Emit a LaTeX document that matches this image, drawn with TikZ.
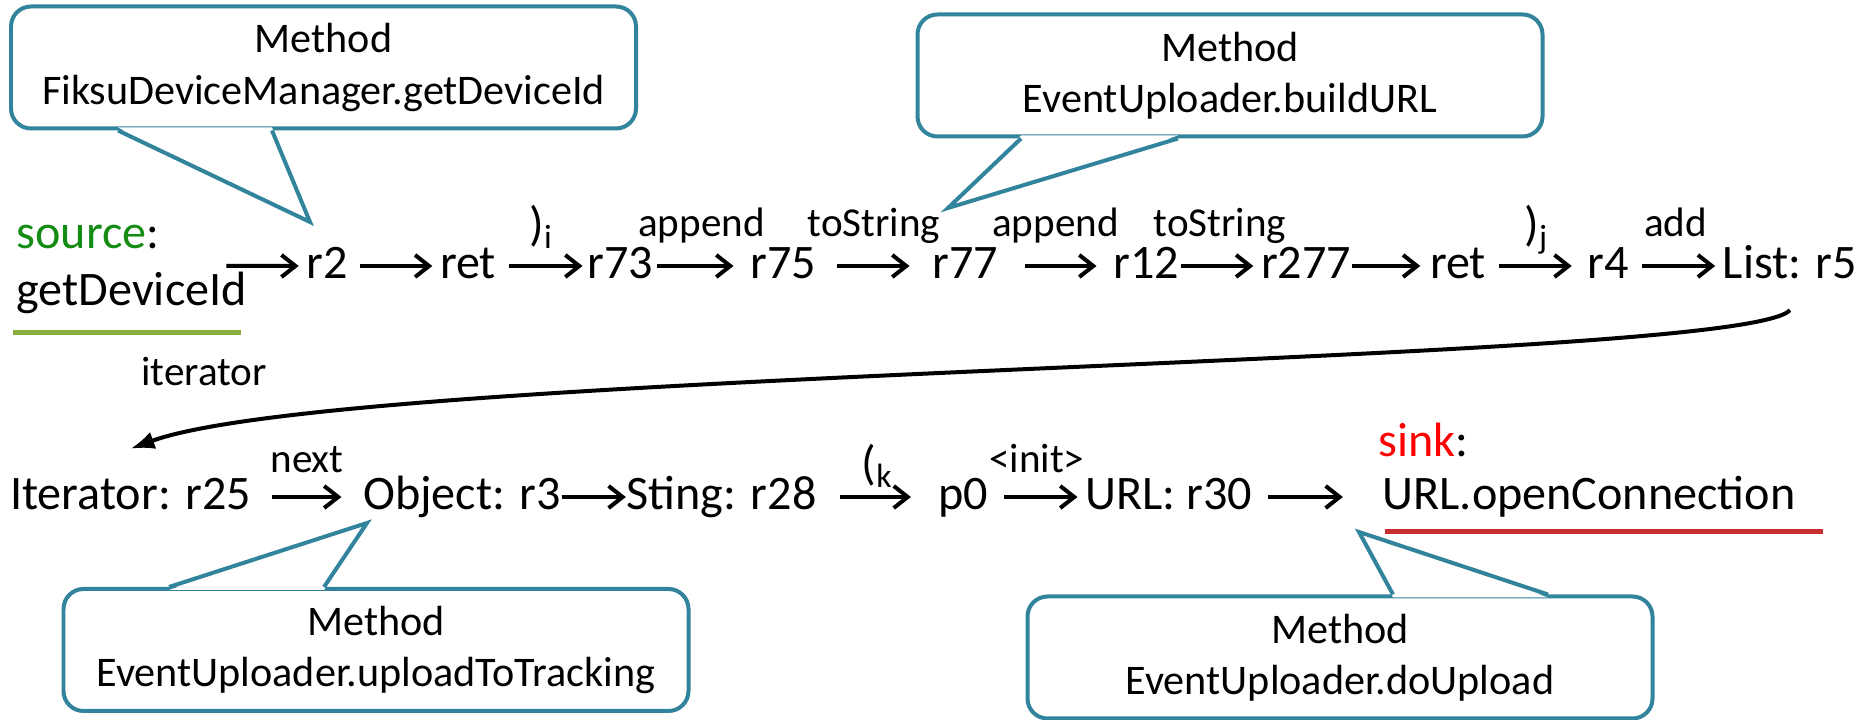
\documentclass[tikz,border=0pt]{standalone}
\usepackage{fontspec}
\setmainfont{Carlito}
\usetikzlibrary{positioning,arrows.meta,calc}
\definecolor{calloutblue}{HTML}{31849B}
\definecolor{srcgreen}{HTML}{148C14}
\definecolor{srcline}{HTML}{8AAE3C}
\definecolor{sinkred}{HTML}{FF0000}
\definecolor{sinkline}{HTML}{C62D2D}
\newcommand{\varfont}{\fontsize{13.7}{16.2}\selectfont}
\newcommand{\boxfont}{\fontsize{12}{14.6}\selectfont}
\newcommand{\lblfont}{\fontsize{11.7}{14}\selectfont}
\tikzset{
  var/.style={font=\varfont, inner xsep=0pt, inner ysep=3pt, text height=0.26cm, text depth=0pt, anchor=base},
  flow/.style={line width=0.04cm, -{Straight Barb[length=0.14cm, width=0.22cm]}},
  backflow/.style={line width=0.04cm, -{Latex[length=0.24cm, width=0.18cm]}},
  lbl/.style={font=\lblfont, anchor=base, midway, yshift=#1},
  lbl/.default=0.29cm,
  method/.style={draw=calloutblue, line width=0.04cm, rounded corners=0.2cm, fill=white, align=center, font=\boxfont, minimum width=6.25cm, minimum height=1.22cm, inner sep=0pt},
  pointer/.style={draw=calloutblue, line width=0.04cm},
}

\begin{document}
\begin{tikzpicture}
  \path[use as bounding box, fill=white] (0,0) rectangle (18.68,-7.2);

  % first row
  \node[anchor=west, align=left, font=\varfont, inner sep=0pt] (src) at (0.16,-2.66) {\strut\textcolor{srcgreen}{source}:\\\strut getDeviceId};
  \node[var] (r2) at (3.27,-2.79) {r2};
  \node[var] (ret1) at (4.68,-2.79) {ret};
  \node[var] (r73) at (6.20,-2.79) {r73};
  \node[var] (r75) at (7.83,-2.79) {r75};
  \node[var] (r77) at (9.65,-2.79) {r77};
  \node[var] (r12) at (11.46,-2.79) {r12};
  \node[var] (r277) at (13.06,-2.79) {r277};
  \node[var] (ret2) at (14.58,-2.79) {ret};
  \node[var] (r4) at (16.08,-2.79) {r4};
  \node[var] (l5) at (17.90,-2.79) {List: r5};
  \draw[srcline, line width=0.05cm] (0.13,-3.33) -- (2.41,-3.33);

  \draw[flow, shorten <=-0.21cm, shorten >=0.07cm] (src) -- (r2);
  \draw[flow, shorten <=0.12cm, shorten >=0.07cm] (r2) -- (ret1);
  \draw[flow, shorten <=0.12cm, shorten >=0.04cm] (ret1) -- node[lbl=0.25cm, font=\varfont] {)\textsubscript{i}} (r73);
  \draw[flow, shorten <=0.03cm, shorten >=0.16cm] (r73) -- node[lbl] {append} (r75);
  \draw[flow, shorten <=0.20cm, shorten >=0.22cm] (r75) -- node[lbl] {toString} (r77);
  \draw[flow, shorten <=0.26cm, shorten >=0.16cm] (r77) -- node[lbl] {append} (r12);
  \draw[flow, shorten <=0.01cm, shorten >=0.07cm] (r12) -- node[lbl] {toString} (r277);
  \draw[flow, shorten >=0.09cm] (r277) -- (ret2);
  \draw[flow, shorten <=0.12cm, shorten >=0.15cm] (ret2) -- node[lbl=0.25cm, font=\varfont] {)\textsubscript{j}} (r4);
  \draw[flow, shorten <=0.13cm, shorten >=0.07cm] (r4) -- node[lbl] {add} (l5);

  % second row
  \node[var] (it25) at (1.305,-5.10) {Iterator: r25};
  \node[var] (obj) at (4.62,-5.10) {Object: r3};
  \node[var] (str) at (7.215,-5.10) {Sting: r28};
  \node[var] (p0) at (9.635,-5.10) {p0};
  \node[var] (url) at (11.685,-5.10) {URL: r30};
  \node[var] (sink) at (15.89,-5.10) {URL.openConnection};
  \node[var, anchor=base west] (sinkl) at (13.78,-4.57) {\textcolor{sinkred}{sink}:};
  \draw[sinkline, line width=0.05cm] (13.85,-5.32) -- (18.23,-5.32);

  \draw[flow, shorten <=0.20cm, shorten >=0.21cm] (it25) -- node[lbl=0.24cm] {next} (obj);
  \draw[flow] (obj) -- (str);
  \draw[flow, shorten <=0.23cm, shorten >=0.27cm] (str) -- node[lbl=0.17cm, font=\varfont] {(\textsubscript{k}} (p0);
  \draw[flow, shorten <=0.15cm, shorten >=0.07cm] (p0) -- node[lbl=0.24cm] {<init>} (url);
  \draw[flow, shorten <=0.15cm, shorten >=0.39cm] (url) -- (sink);

  \draw[backflow] ([yshift=-0.2cm]l5.south) .. controls +(-0.53,-0.55) and +(2.18,0.80) .. ([yshift=0.24cm]it25.north)
    node[pos=0.92, font=\lblfont, anchor=base, yshift=0.45cm] {iterator};

  % method callouts
  \node[method] (m1) at (3.235,-0.675) {Method\\FiksuDeviceManager.getDeviceId};
  \coordinate (t1) at (3.10,-2.22);
  \fill[white] ([xshift=-2.055cm, yshift=0.03cm]m1.south) -- (t1) -- ([xshift=-0.515cm, yshift=0.03cm]m1.south) -- cycle;
  \draw[pointer] ([xshift=-2.055cm]m1.south) -- (t1) -- ([xshift=-0.515cm]m1.south);

  \node[method] (m2) at (12.30,-0.755) {Method\\EventUploader.buildURL};
  \coordinate (t2) at (9.48,-2.08);
  \fill[white] ([xshift=-2.09cm, yshift=0.03cm]m2.south) -- (t2) -- ([xshift=-0.52cm, yshift=0.03cm]m2.south) -- cycle;
  \draw[pointer] ([xshift=-2.09cm]m2.south) -- (t2) -- ([xshift=-0.52cm]m2.south);

  \node[method] (m3) at (3.76,-6.50) {Method\\EventUploader.uploadToTracking};
  \coordinate (t3) at (3.67,-5.23);
  \fill[white] ([xshift=-2.07cm, yshift=-0.03cm]m3.north) -- (t3) -- ([xshift=-0.52cm, yshift=-0.03cm]m3.north) -- cycle;
  \draw[pointer] ([xshift=-2.07cm]m3.north) -- (t3) -- ([xshift=-0.52cm]m3.north);

  \node[method] (m4) at (13.40,-6.575) {Method\\EventUploader.doUpload};
  \coordinate (t4) at (13.59,-5.32);
  \fill[white] ([xshift=0.53cm, yshift=-0.03cm]m4.north) -- (t4) -- ([xshift=2.08cm, yshift=-0.03cm]m4.north) -- cycle;
  \draw[pointer] ([xshift=0.53cm]m4.north) -- (t4) -- ([xshift=2.08cm]m4.north);
\end{tikzpicture}
\end{document}
